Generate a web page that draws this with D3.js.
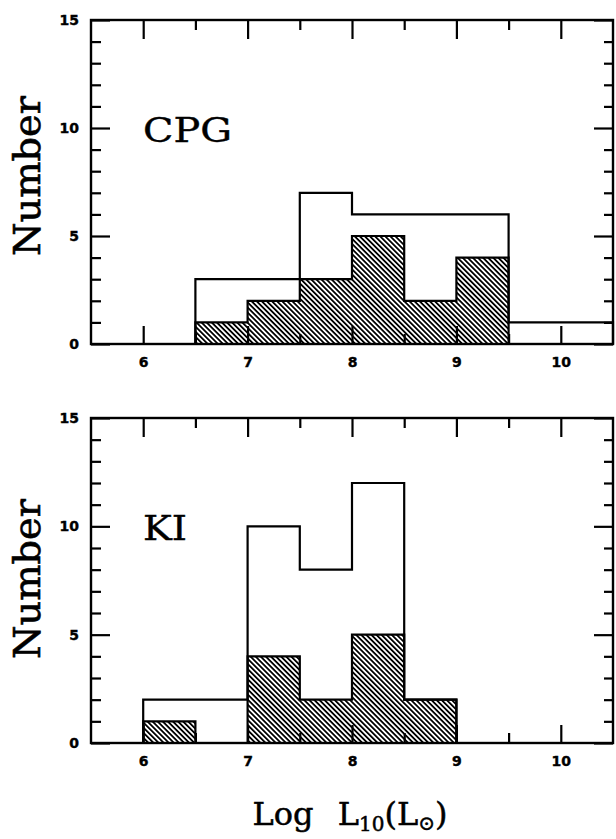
<!DOCTYPE html>
<html><head><meta charset="utf-8">
<script src="https://cdn.jsdelivr.net/npm/d3@7"></script>
<style>body{margin:0;background:#fff}</style>
</head><body>
<svg id="c" width="616" height="839"></svg>
<script>
// ---- data ----
const binStarts = [5.5, 6, 6.5, 7, 7.5, 8, 8.5, 9, 9.5, 10];
const binWidth = 0.5;
const cpgAll     = [0, 0, 3, 3, 7, 6, 6, 6, 1, 1];
const cpgHatched = [0, 0, 1, 2, 3, 5, 2, 4, 0, 0];
const kiAll      = [0, 2, 2, 10, 8, 12, 2, 0, 0, 0];
const kiHatched  = [0, 1, 0, 4, 2, 5, 2, 0, 0, 0];
const xMajorTicks = [6, 7, 8, 9, 10];
const xMinorTicks = [6.5, 7.5, 8.5, 9.5];
const yMajorTicks = [0, 5, 10, 15];
const yMinorTicks = [1, 2, 3, 4, 6, 7, 8, 9, 11, 12, 13, 14];
const panelLabels = ["CPG", "KI"];

const svg = d3.select("#c");
const defs = svg.append("defs");
defs.append("pattern")
  .attr("id", "hatch").attr("patternUnits", "userSpaceOnUse")
  .attr("width", 3.6).attr("height", 10)
  .attr("patternTransform", "rotate(-45)")
  .append("rect").attr("width", 1.8).attr("height", 10).attr("fill", "#000");

const x = d3.scaleLinear().domain([5.5, 10.5]).range([91, 613]);
const panels = [
  {label: panelLabels[0], all: cpgAll, hatched: cpgHatched, top: 20, bottom: 344, labelY: 142, numberY: 176},
  {label: panelLabels[1], all: kiAll, hatched: kiHatched, top: 418, bottom: 743, labelY: 540, numberY: 579}
];
const serif = "DejaVu Serif";

function pts(vals) {
  const p = binStarts.map((s, i) => ({x: s, v: vals[i]}));
  p.push({x: binStarts[binStarts.length - 1] + binWidth, v: vals[vals.length - 1]});
  return p;
}

panels.forEach(P => {
  const y = d3.scaleLinear().domain([0, 15]).range([P.bottom, P.top]);
  const g = svg.append("g");
  const area = d3.area().x(d => x(d.x)).y0(y(0)).y1(d => y(d.v)).curve(d3.curveStepAfter);
  const line = d3.line().x(d => x(d.x)).y(d => y(d.v)).curve(d3.curveStepAfter);
  const hp = pts(P.hatched);
  g.append("path").attr("d", area(hp)).attr("fill", "url(#hatch)");
  g.append("path").attr("d", line([{x: 5.5, v: 0}, ...hp, {x: 10.5, v: 0}]))
    .attr("fill", "none").attr("stroke", "#000").attr("stroke-width", 2.2);
  const ap = pts(P.all);
  g.append("path").attr("d", line([{x: 5.5, v: 0}, ...ap, {x: 10.5, v: 0}]))
    .attr("fill", "none").attr("stroke", "#000").attr("stroke-width", 2.2);

  // frame
  g.append("rect").attr("x", x(5.5)).attr("y", y(15))
    .attr("width", x(10.5) - x(5.5)).attr("height", y(0) - y(15))
    .attr("fill", "none").attr("stroke", "#000").attr("stroke-width", 2.4);

  function styleAxis(a) {
    a.select(".domain").remove();
    a.selectAll("line").attr("stroke-width", 2.2);
    a.attr("font-family", "DejaVu Sans").attr("font-size", 14).attr("font-weight", "bold");
    a.selectAll("text").attr("stroke", "#000").attr("stroke-width", 0.4);
  }
  g.append("g").attr("transform", `translate(0,${y(0)})`)
    .call(d3.axisBottom(x).tickValues(xMajorTicks).tickSize(-18).tickPadding(13).tickFormat(d3.format("d"))).call(styleAxis);
  g.append("g").attr("transform", `translate(0,${y(0)})`)
    .call(d3.axisBottom(x).tickValues(xMinorTicks).tickSize(-10).tickFormat("")).call(styleAxis);
  g.append("g").attr("transform", `translate(0,${y(15)})`)
    .call(d3.axisTop(x).tickValues(xMajorTicks).tickSize(-19).tickFormat("")).call(styleAxis);
  g.append("g").attr("transform", `translate(0,${y(15)})`)
    .call(d3.axisTop(x).tickValues(xMinorTicks).tickSize(-10).tickFormat("")).call(styleAxis);
  g.append("g").attr("transform", `translate(${x(5.5)},0)`)
    .call(d3.axisLeft(y).tickValues(yMajorTicks).tickSize(-19).tickPadding(12).tickFormat(d3.format("d"))).call(styleAxis);
  g.append("g").attr("transform", `translate(${x(5.5)},0)`)
    .call(d3.axisLeft(y).tickValues(yMinorTicks).tickSize(-10).tickFormat("")).call(styleAxis);
  g.append("g").attr("transform", `translate(${x(10.5)},0)`)
    .call(d3.axisRight(y).tickValues(yMajorTicks).tickSize(-19).tickFormat("")).call(styleAxis);
  g.append("g").attr("transform", `translate(${x(10.5)},0)`)
    .call(d3.axisRight(y).tickValues(yMinorTicks).tickSize(-9).tickFormat("")).call(styleAxis);

  // panel label
  g.append("text").attr("x", 143).attr("y", P.labelY)
    .attr("font-family", serif).attr("font-size", 33)
    .attr("stroke", "#000").attr("stroke-width", 0.4)
    .attr("textLength", P.label === "CPG" ? 89 : 44).attr("lengthAdjust", "spacingAndGlyphs")
    .text(P.label);
  // y label
  g.append("text").attr("transform", `translate(40,${P.numberY}) rotate(-90)`)
    .attr("text-anchor", "middle").attr("font-family", serif).attr("font-size", 37)
    .attr("stroke", "#000").attr("stroke-width", 0.6)
    .attr("textLength", 160).attr("lengthAdjust", "spacingAndGlyphs")
    .text("Number");
});

// x label
const xl = svg.append("text").attr("x", 350).attr("y", 825)
  .attr("text-anchor", "middle").attr("font-family", serif).attr("font-size", 32)
  .attr("stroke", "#000").attr("stroke-width", 0.5);
xl.append("tspan").text("Log");
xl.append("tspan").attr("dx", 14).text(" L");
xl.append("tspan").attr("font-size", 20).attr("dy", 6).text("10");
xl.append("tspan").attr("dy", -6).text("(L");
xl.append("tspan").attr("font-size", 20).attr("dy", 5).text("⊙");
xl.append("tspan").attr("dy", -5).text(")");
</script>
</body></html>
